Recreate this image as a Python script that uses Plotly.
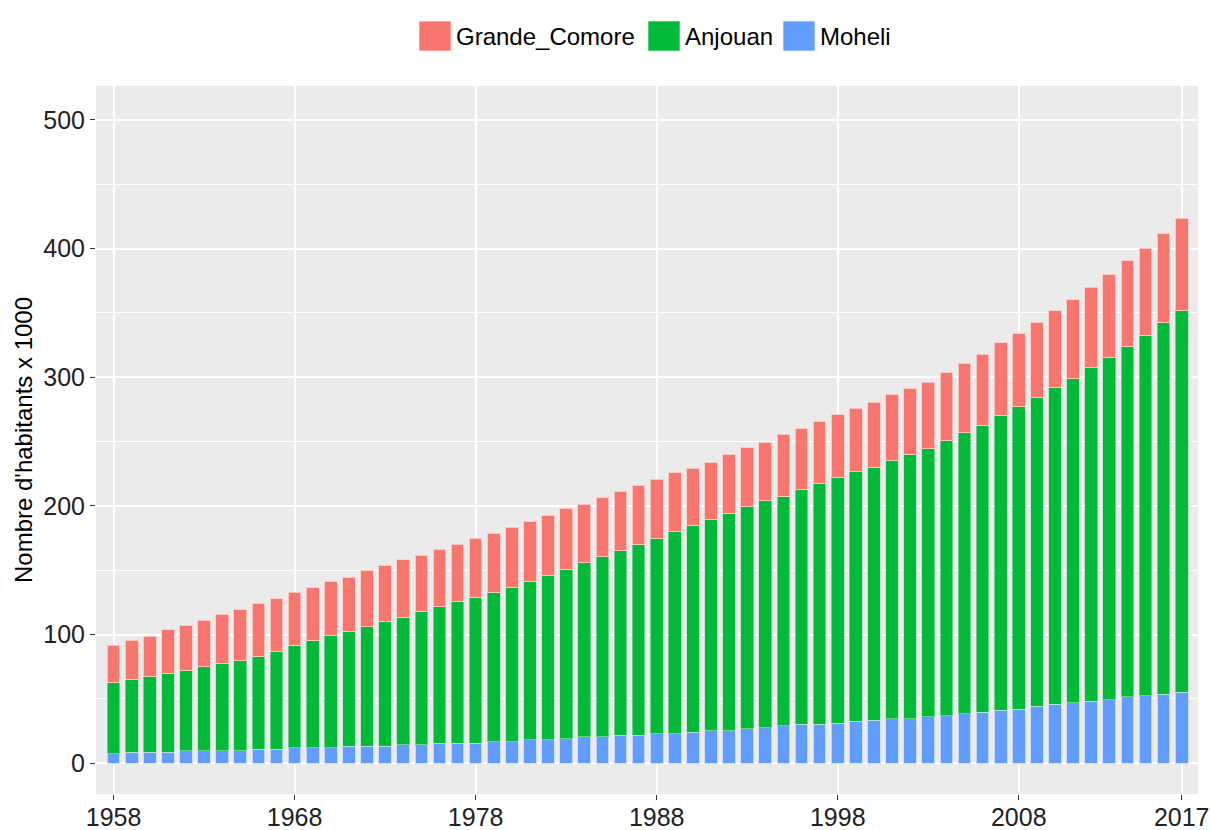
import plotly.graph_objects as go

years = list(range(1958, 2018))

moheli = [7.2, 8.5, 8.5, 8.5, 9.6, 9.6, 9.6, 9.6, 10.9, 10.9,
          12.2, 12.2, 12.2, 13.2, 13.2, 13.2, 14.5, 14.5, 15.7, 15.7,
          15.7, 16.8, 16.8, 18.1, 18.1, 19.1, 20.5, 20.5, 21.8, 21.8,
          23.0, 23.0, 24.1, 25.4, 25.4, 26.7, 27.7, 29.0, 30.3, 30.3,
          31.2, 32.6, 33.6, 34.7, 34.7, 36.0, 37.0, 38.3, 39.6, 41.0,
          42.0, 44.4, 45.7, 47.0, 48.3, 49.4, 51.7, 52.5, 53.8, 55.1]

anjouan = [55.5, 56.8, 59.1, 61.5, 62.7, 65.3, 67.6, 69.9, 72.3, 75.9,
           79.5, 83.2, 86.8, 89.4, 93.0, 96.7, 99.0, 103.7, 106.1, 109.7,
           113.4, 115.9, 119.5, 123.1, 128.1, 131.7, 135.3, 139.9, 143.5, 148.5,
           152.0, 156.9, 160.7, 164.3, 169.0, 172.6, 176.3, 178.6, 182.2, 186.9,
           190.5, 194.0, 196.6, 200.5, 205.3, 208.4, 213.5, 218.5, 222.9, 228.9,
           235.0, 239.9, 246.0, 251.8, 258.9, 266.2, 272.3, 280.1, 288.5, 296.7]

grande_comore = [29.1, 30.1, 31.1, 33.9, 35.0, 36.3, 38.7, 39.9, 41.2, 41.0,
                 41.0, 40.9, 42.2, 42.0, 43.3, 43.5, 44.6, 43.5, 44.6, 44.9,
                 45.9, 45.9, 47.2, 47.0, 46.6, 47.2, 45.6, 45.9, 45.9, 45.6,
                 45.8, 45.8, 44.6, 44.4, 45.9, 45.7, 45.6, 48.2, 48.0, 48.2,
                 49.3, 49.3, 50.5, 51.5, 51.4, 51.7, 53.0, 54.0, 55.4, 56.7,
                 56.7, 58.0, 59.8, 61.4, 62.7, 64.1, 66.5, 67.8, 69.0, 71.7]

x_ticks = [1958, 1968, 1978, 1988, 1998, 2008, 2017]
y_ticks = [0, 100, 200, 300, 400, 500]
y_minor = [50, 150, 250, 350, 450]

series_names = ["Moheli", "Anjouan", "Grande_Comore"]
series_values = [moheli, anjouan, grande_comore]
series_colors = ["#619CFF", "#00BA38", "#F8766D"]
series_lines = ["rgba(205,222,255,0.9)", "rgba(170,230,190,0.6)", "rgba(255,205,200,0.9)"]

W, H = 1211, 830
ML, MT = 96, 86
MR = W - 1198
MB = H - 794
PW, PH = W - ML - MR, H - MT - MB

fig = go.Figure()
for name, vals, col, lc in zip(series_names, series_values, series_colors, series_lines):
    fig.add_trace(go.Bar(x=years, y=vals, name=name, showlegend=False,
                         marker=dict(color=col, line=dict(color=lc, width=1)), width=0.7))

font_family = "Liberation Sans, Arial, sans-serif"

# custom legend with large keys (page pixel -> paper coordinates)
def px_x(p):
    return (p - ML) / PW

def px_y(p):
    return (H - MB - p) / PH

legend_items = [("Grande_Comore", "#F8766D", 419), ("Anjouan", "#00BA38", 648), ("Moheli", "#619CFF", 783)]
shapes = []
annotations = []
for name, col, kx in legend_items:
    shapes.append(dict(type="rect", xref="paper", yref="paper",
                       x0=px_x(kx), x1=px_x(kx + 32), y0=px_y(51), y1=px_y(21),
                       fillcolor=col, line=dict(color="rgba(255,255,255,0.6)", width=1)))
    annotations.append(dict(xref="paper", yref="paper", x=px_x(kx + 35), y=px_y(36),
                            xanchor="left", yanchor="middle", showarrow=False,
                            text=name, font=dict(size=24, color="black", family=font_family)))

fig.update_layout(
    barmode="stack",
    width=W, height=H,
    margin=dict(l=ML, r=MR, t=MT, b=MB),
    paper_bgcolor="white",
    plot_bgcolor="#EBEBEB",
    font=dict(family=font_family, size=24, color="black"),
    showlegend=False,
    shapes=shapes,
    annotations=annotations,
)
fig.update_xaxes(range=[1957.03, 2017.9], tickmode="array", tickvals=x_ticks,
                 ticktext=[str(v) for v in x_ticks], automargin=False,
                 showgrid=True, gridcolor="white", gridwidth=1.8,
                 ticks="outside", ticklen=5, tickcolor="#333333", tickwidth=1.2,
                 ticklabelstandoff=-4,
                 tickfont=dict(size=25, color="#222222"), zeroline=False, showline=False)
fig.update_yaxes(range=[-23.9, 526.3], tickmode="array", tickvals=y_ticks, automargin=False,
                 showgrid=True, gridcolor="white", gridwidth=1.8,
                 ticks="outside", ticklen=5, tickcolor="#333333", tickwidth=1.2,
                 tickfont=dict(size=25, color="#222222"), zeroline=False, showline=False,
                 title=dict(text="Nombre d'habitants x 1000", font=dict(size=24, color="black"), standoff=3),
                 minor=dict(tickmode="array", tickvals=y_minor, showgrid=True, gridcolor="white",
                            gridwidth=0.9, ticks=""))

fig.write_html("out.html", config={"displayModeBar": False},
               post_script="document.body.style.margin='0';document.body.style.overflow='hidden';")
